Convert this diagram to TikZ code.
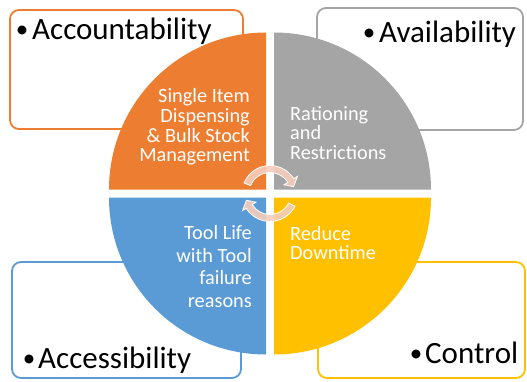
\documentclass[tikz,border=0pt]{standalone}
\usepackage{fontspec}
\setmainfont{Carlito}
\usetikzlibrary{calc}
\definecolor{qorange}{HTML}{ED7D31}
\definecolor{qgray}{HTML}{A5A5A5}
\definecolor{qblue}{HTML}{5B9BD5}
\definecolor{qyellow}{HTML}{FFC000}
\definecolor{arrowpink}{HTML}{F6CDBB}
\begin{document}
\begin{tikzpicture}[x=1pt,y=-1pt,
  box/.style={rounded corners=9pt, line width=1.8pt},
  biglabel/.style={font=\fontsize{31}{37}\selectfont, anchor=base west, inner sep=0pt, text=black},
  bul/.style={font=\fontsize{25}{30}\selectfont, anchor=base, inner sep=0pt, text=black},
  qtext/.style={font=\fontsize{20.3}{22}\selectfont, text=white, inner sep=0pt},
  ql/.style={qtext, anchor=base west},
  qr/.style={qtext, anchor=base east},
  ring/.style={fill=arrowpink, fill opacity=0.9, draw=white, line width=0.8pt}]
\useasboundingbox (0,0) rectangle (527,381);
% outline boxes
\draw[box, draw=qorange] (10,10) rectangle (243,129);
\draw[box, draw=qgray] (317,8) rectangle (523,130);
\draw[box, draw=qblue] (12,262) rectangle (241,378);
\draw[box, draw=qyellow] (318,262) rectangle (525,378);
% quadrants
\coordinate (c) at (270,193.5);
\fill[qorange] (266,189.5) -- (109,189.5) arc[start angle=180, end angle=270, radius=157] -- cycle;
\fill[qgray] (274,189.5) -- (274,32.5) arc[start angle=270, end angle=360, radius=157] -- cycle;
\fill[qyellow] (274,197.5) -- (431,197.5) arc[start angle=0, end angle=90, radius=157] -- cycle;
\fill[qblue] (266,197.5) -- (266,354.5) arc[start angle=90, end angle=180, radius=157] -- cycle;
% circular arrows
\filldraw[ring] ($(c)+(202:21)$) arc[start angle=202, end angle=328, radius=21]
  -- ($(c)+(328:16.5)$) -- ($(c)+(344:24.5)$) -- ($(c)+(328:32.5)$)
  -- ($(c)+(328:28)$) arc[start angle=328, end angle=202, radius=28] -- cycle;
\filldraw[ring] ($(c)+(27:21)$) arc[start angle=27, end angle=148, radius=21]
  -- ($(c)+(148:16.5)$) -- ($(c)+(164:24.5)$) -- ($(c)+(148:32.5)$)
  -- ($(c)+(148:28)$) arc[start angle=148, end angle=27, radius=28] -- cycle;
% corner labels
\node[bul] (b1) at (22,37) {•};
\node[biglabel] (l1) at (32,39) {Accountability};
\node[bul] (b2) at (369,40) {•};
\node[biglabel] (l2) at (379,42) {Availability};
\node[bul] (b3) at (29,366) {•};
\node[biglabel] (l3) at (38,368) {Accessibility};
\node[bul] (b4) at (416,361) {•};
\node[biglabel] (l4) at (425,363) {Control};
% quadrant texts
\node[qr] (o1) at (250,102) {Single Item};
\node[qr] (o2) at (250,122) {Dispensing};
\node[qr] (o3) at (250,142) {\& Bulk Stock};
\node[qr] (o4) at (250,161) {Management};
\node[ql] (g1) at (290,120) {Rationing};
\node[ql] (g2) at (290,139) {and};
\node[ql] (g3) at (290,159) {Restrictions};
\node[qr] (u1) at (252,239) {Tool Life};
\node[qr] (u2) at (252,262) {with Tool};
\node[qr] (u3) at (252,284) {failure};
\node[qr] (u4) at (252,307) {reasons};
\node[ql] (y1) at (290,240) {Reduce};
\node[ql] (y2) at (290,259) {Downtime};
\end{tikzpicture}
\end{document}
